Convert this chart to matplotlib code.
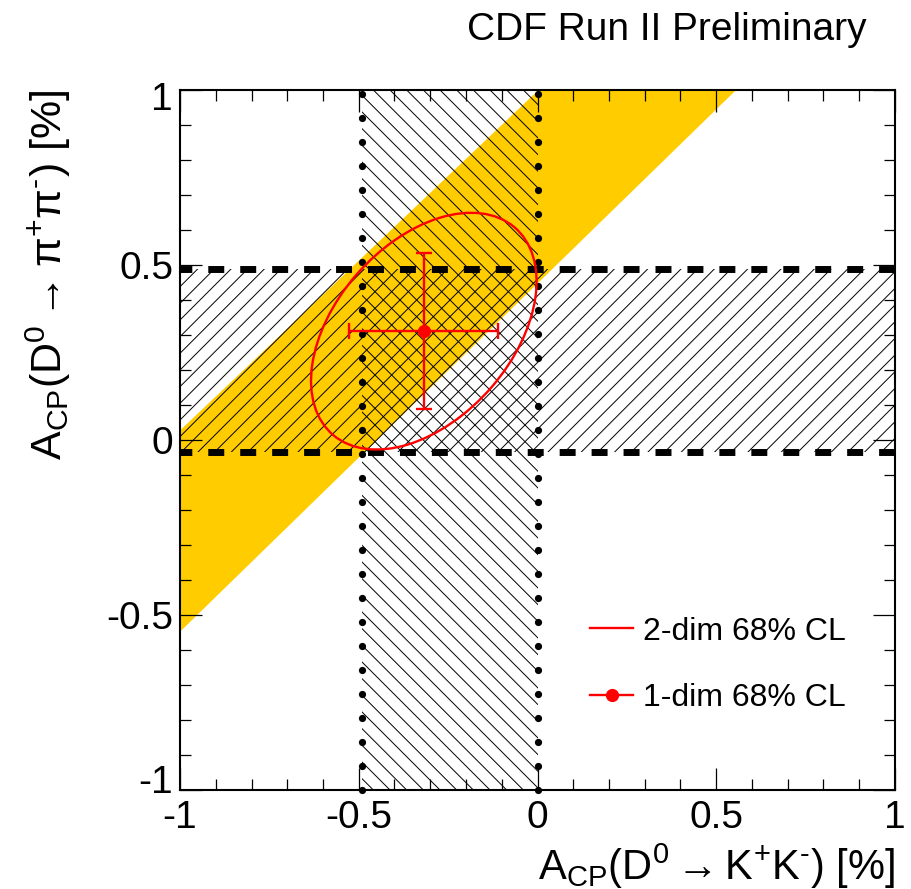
import numpy as np
import matplotlib
matplotlib.use("Agg")
import matplotlib.pyplot as plt
import matplotlib.transforms as mtransforms
from matplotlib.patches import Ellipse
from matplotlib.lines import Line2D

plt.rcParams['font.family'] = ['Liberation Sans', 'DejaVu Sans']
plt.rcParams['mathtext.fontset'] = 'custom'
plt.rcParams['mathtext.rm'] = 'Liberation Sans'
plt.rcParams['mathtext.it'] = 'Liberation Sans'
plt.rcParams['mathtext.bf'] = 'Liberation Sans:bold'
plt.rcParams['hatch.linewidth'] = 0.7

# ---- data ----
kk_band = [-0.49, 0.0]          # 1-dim 68% CL A_CP(KK)
pipi_band = [-0.035, 0.49]      # 1-dim 68% CL A_CP(pipi)
delta_x = [-1.0, 1.0]           # diagonal (Delta A_CP) band edges
delta_lo = [-0.545, 1.445]
delta_hi = [0.03, 1.97]
center = [-0.318, 0.311]        # best fit point
sigma = [0.208, 0.223]          # 1-dim uncertainties
rho = 0.42                      # correlation
chi2_2d = 2.30                  # 68% CL for 2 dof
xticks = [-1, -0.5, 0, 0.5, 1]
yticks = [-1, -0.5, 0, 0.5, 1]
tick_labels = ['-1', '-0.5', '0', '0.5', '1']

yellow = '#ffcc00'
red = '#ff0000'

fig = plt.figure(figsize=(9.11, 8.89), dpi=100)
ax = fig.add_axes([180/911, 1-790/889, 715/911, 700/889])
ax.set_xlim(-1, 1)
ax.set_ylim(-1, 1)

# yellow diagonal band
ax.fill_between(delta_x, delta_lo, delta_hi, color=yellow, lw=0, zorder=1)

# hatched bands
ax.axvspan(kk_band[0], kk_band[1], facecolor='none', edgecolor='black',
           hatch='\\\\', lw=0, zorder=2)
ax.axhspan(pipi_band[0], pipi_band[1], facecolor='none', edgecolor='black',
           hatch='//', lw=0, zorder=2)

# dashed horizontal lines
lw_d = 5.0
for yv in pipi_band:
    ax.axhline(yv, color='black', lw=lw_d, linestyle=(0.6, (2.3, 2.3)),
               dash_capstyle='butt', zorder=3)
# dotted vertical lines (dot pattern as markers along the line)
dot_pos = np.arange(0.99, -1.0, -0.0686)
for xv in kk_band:
    ax.plot(np.full_like(dot_pos, xv), dot_pos, linestyle='none', marker='o',
            ms=5.2, color='black', mew=0, zorder=3, clip_on=False)

# 2-dim ellipse
cov = np.array([[sigma[0]**2, rho*sigma[0]*sigma[1]],
                [rho*sigma[0]*sigma[1], sigma[1]**2]]) * chi2_2d
vals, vecs = np.linalg.eigh(cov)
angle = np.degrees(np.arctan2(vecs[1, 1], vecs[0, 1]))
ell = Ellipse(center, 2*np.sqrt(vals[1]), 2*np.sqrt(vals[0]), angle=angle,
              facecolor='none', edgecolor=red, lw=1.7, zorder=5)
ax.add_patch(ell)

# 1-dim errors
ax.errorbar([center[0]], [center[1]], xerr=[sigma[0]], yerr=[sigma[1]],
            fmt='o', color=red, ms=8.5, lw=1.7, capsize=5.5, capthick=1.7, zorder=6)

# legend
h1 = Line2D([], [], color=red, lw=1.7)
h2 = Line2D([], [], color=red, lw=1.7, marker='o', ms=8.5)
leg = ax.legend([h1, h2], ['2-dim 68% CL', '1-dim 68% CL'], frameon=False,
                fontsize=23, loc='center left',
                bbox_to_anchor=(590/911, 1-665/889), bbox_transform=fig.transFigure,
                borderpad=0, borderaxespad=0, handlelength=1.35,
                handletextpad=0.3, labelspacing=1.15)

# axes styling
ax.set_xticks(xticks)
ax.set_xticklabels(tick_labels)
ax.set_yticks(yticks)
ax.set_yticklabels(tick_labels)
ax.set_xticks(np.arange(-1, 1.001, 0.1), minor=True)
ax.set_yticks(np.arange(-1, 1.001, 0.1), minor=True)
ax.tick_params(which='both', direction='in', top=True, right=True,
               labelsize=28, width=0.9)
ax.tick_params(axis='x', which='both', pad=7)
ax.tick_params(axis='y', which='both', pad=5)
ax.tick_params(which='major', length=16)
ax.tick_params(which='minor', length=8)
for s in ax.spines.values():
    s.set_linewidth(1.5)
    s.set_zorder(10)

# nudge the end y labels inward (as in the reference)
ylabels = ax.get_yticklabels()
ylabels[0].set_transform(ylabels[0].get_transform() +
                         mtransforms.ScaledTranslation(0, 11/100, fig.dpi_scale_trans))
ylabels[-1].set_transform(ylabels[-1].get_transform() +
                          mtransforms.ScaledTranslation(0, -6/100, fig.dpi_scale_trans))

ax.set_xlabel(r'$\mathrm{A_{CP}(D^{0} \rightarrow K^{+}K^{\text{-}})}$ [%]', fontsize=30,
              loc='right', labelpad=4)
ax.set_ylabel(r'$\mathrm{A_{CP}(D^{0} \rightarrow \pi^{+}\pi^{\text{-}})}$ [%]', fontsize=31,
              loc='top', labelpad=24)

fig.text(867/911, 1-40/889, 'CDF Run II Preliminary', fontsize=28,
         ha='right', va='baseline')

fig.savefig('out.png', dpi=100)
